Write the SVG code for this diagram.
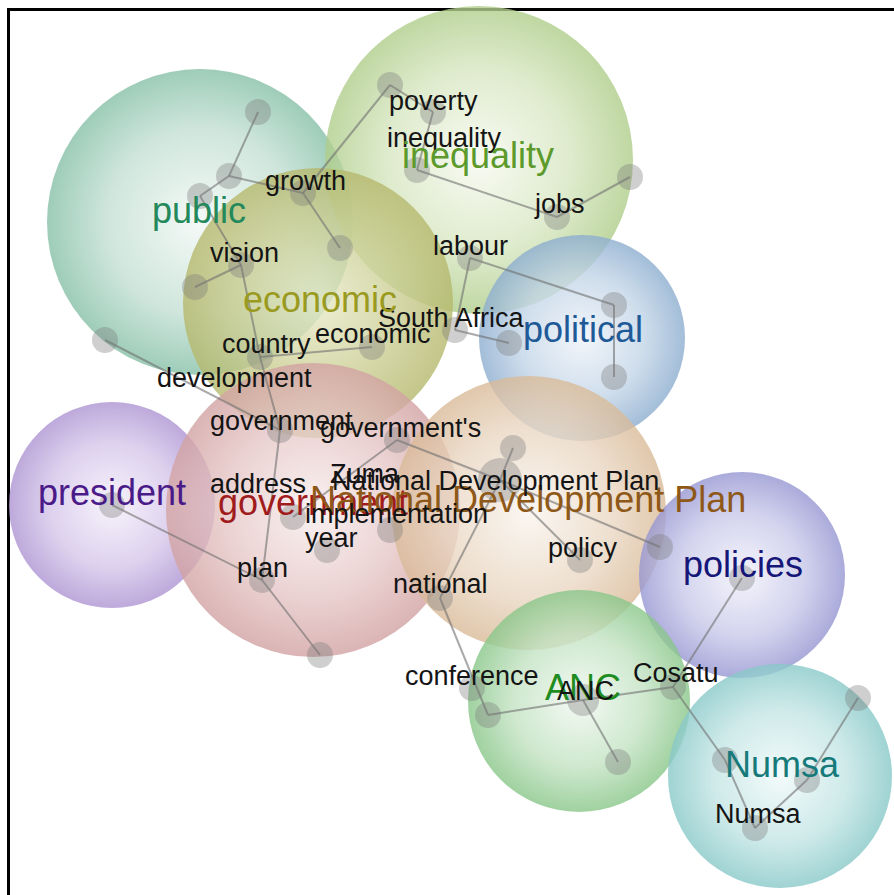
<svg xmlns="http://www.w3.org/2000/svg" width="894" height="895" viewBox="0 0 894 895">
<defs>
<radialGradient id="gPublic"><stop offset="0" stop-color="#f2f8f5"/><stop offset="0.6" stop-color="#c4e0d4"/><stop offset="1" stop-color="#86c0a8"/></radialGradient>
<radialGradient id="gIneq"><stop offset="0" stop-color="#f7f9f0"/><stop offset="0.6" stop-color="#d6e6c0"/><stop offset="1" stop-color="#afcd8a"/></radialGradient>
<radialGradient id="gEcon"><stop offset="0" stop-color="#e8eac8"/><stop offset="0.6" stop-color="#cacd92"/><stop offset="1" stop-color="#b5b86c"/></radialGradient>
<radialGradient id="gPol"><stop offset="0" stop-color="#eef3f9"/><stop offset="0.6" stop-color="#c3d5e7"/><stop offset="1" stop-color="#8cadcf"/></radialGradient>
<radialGradient id="gPres"><stop offset="0" stop-color="#f5f0fa"/><stop offset="0.6" stop-color="#d5c6ea"/><stop offset="1" stop-color="#ad94d2"/></radialGradient>
<radialGradient id="gGov"><stop offset="0" stop-color="#f8eeee"/><stop offset="0.6" stop-color="#e6c6c6"/><stop offset="1" stop-color="#d2a2a2"/></radialGradient>
<radialGradient id="gNdp"><stop offset="0" stop-color="#f9f4ee"/><stop offset="0.6" stop-color="#ead8c4"/><stop offset="1" stop-color="#d9ba98"/></radialGradient>
<radialGradient id="gPolc"><stop offset="0" stop-color="#f2f2fa"/><stop offset="0.6" stop-color="#c8c8ea"/><stop offset="1" stop-color="#9696d2"/></radialGradient>
<radialGradient id="gAnc"><stop offset="0" stop-color="#f1f8f1"/><stop offset="0.6" stop-color="#c2e2c2"/><stop offset="1" stop-color="#88c688"/></radialGradient>
<radialGradient id="gNumsa"><stop offset="0" stop-color="#f0f9f9"/><stop offset="0.6" stop-color="#c2e4e4"/><stop offset="1" stop-color="#88c8c8"/></radialGradient>
</defs>
<style>
.bub{opacity:0.8}
.edge{stroke:#707070;stroke-width:2;stroke-opacity:0.6;fill:none}
.dot{fill:#7a7a7a;fill-opacity:0.36}
.w{font-family:"Liberation Sans",Arial,sans-serif;font-size:27px;fill:#141414}
.c{font-family:"Liberation Sans",Arial,sans-serif;font-size:36px}
</style>
<rect x="0" y="0" width="894" height="895" fill="#ffffff"/>
<path d="M8.5 895 V9.5 H894" fill="none" stroke="#000" stroke-width="3"/>

<g id="bubbles">
<g id="cluster-public"><circle class="bub" cx="200" cy="222" r="153" fill="url(#gPublic)"/></g>
<g id="cluster-inequality"><circle class="bub" cx="479" cy="160" r="154" fill="url(#gIneq)"/></g>
<g id="cluster-economic"><circle class="bub" cx="318" cy="303" r="135" fill="url(#gEcon)"/></g>
<g id="cluster-political"><circle class="bub" cx="582" cy="338" r="103" fill="url(#gPol)"/></g>
<g id="cluster-president"><circle class="bub" cx="112" cy="505" r="103" fill="url(#gPres)"/></g>
<g id="cluster-government"><circle class="bub" cx="313" cy="510" r="147" fill="url(#gGov)"/></g>
<g id="cluster-ndp"><circle class="bub" cx="529" cy="513" r="137" fill="url(#gNdp)"/></g>
<g id="cluster-policies"><circle class="bub" cx="742" cy="575" r="103" fill="url(#gPolc)"/></g>
<g id="cluster-anc"><circle class="bub" cx="579" cy="701" r="111" fill="url(#gAnc)"/></g>
<g id="cluster-numsa"><circle class="bub" cx="780" cy="776" r="112" fill="url(#gNumsa)"/></g>
</g>

<g id="connectors">
<line class="edge" x1="258" y1="112" x2="229" y2="176"/>
<line class="edge" x1="229" y1="176" x2="200" y2="196"/>
<line class="edge" x1="229" y1="176" x2="303" y2="193"/>
<line class="edge" x1="200" y1="196" x2="241" y2="265"/>
<line class="edge" x1="241" y1="265" x2="195" y2="287"/>
<line class="edge" x1="241" y1="265" x2="260" y2="357"/>
<line class="edge" x1="303" y1="193" x2="340" y2="248"/>
<line class="edge" x1="303" y1="193" x2="390" y2="85"/>
<line class="edge" x1="390" y1="85" x2="433" y2="112"/>
<line class="edge" x1="433" y1="112" x2="417" y2="170"/>
<line class="edge" x1="417" y1="170" x2="557" y2="217"/>
<line class="edge" x1="557" y1="217" x2="630" y2="177"/>
<line class="edge" x1="470" y1="258" x2="614" y2="305"/>
<line class="edge" x1="470" y1="258" x2="455" y2="330"/>
<line class="edge" x1="455" y1="330" x2="509" y2="343"/>
<line class="edge" x1="614" y1="305" x2="614" y2="377"/>
<line class="edge" x1="260" y1="357" x2="372" y2="347"/>
<line class="edge" x1="105" y1="340" x2="280" y2="430"/>
<line class="edge" x1="260" y1="357" x2="280" y2="430"/>
<line class="edge" x1="280" y1="430" x2="262" y2="580"/>
<line class="edge" x1="112" y1="505" x2="262" y2="580"/>
<line class="edge" x1="262" y1="580" x2="320" y2="655"/>
<line class="edge" x1="397" y1="440" x2="293" y2="517"/>
<line class="edge" x1="397" y1="440" x2="500" y2="480"/>
<line class="edge" x1="513" y1="448" x2="500" y2="480"/>
<line class="edge" x1="500" y1="480" x2="580" y2="560"/>
<line class="edge" x1="500" y1="480" x2="660" y2="547"/>
<line class="edge" x1="500" y1="480" x2="440" y2="598"/>
<line class="edge" x1="440" y1="598" x2="488" y2="715"/>
<line class="edge" x1="488" y1="715" x2="583" y2="700"/>
<line class="edge" x1="583" y1="700" x2="618" y2="762"/>
<line class="edge" x1="583" y1="700" x2="673" y2="687"/>
<line class="edge" x1="742" y1="578" x2="673" y2="687"/>
<line class="edge" x1="673" y1="687" x2="725" y2="760"/>
<line class="edge" x1="725" y1="760" x2="755" y2="828"/>
<line class="edge" x1="755" y1="828" x2="807" y2="780"/>
<line class="edge" x1="807" y1="780" x2="858" y2="698"/>
</g>

<g id="dots">
<circle class="dot" cx="258" cy="112" r="13"/>
<circle class="dot" cx="229" cy="176" r="13"/>
<circle class="dot" cx="200" cy="196" r="13"/>
<circle class="dot" cx="195" cy="287" r="13"/>
<circle class="dot" cx="340" cy="248" r="13"/>
<circle class="dot" cx="105" cy="340" r="13"/>
<circle class="dot" cx="390" cy="85" r="13"/>
<circle class="dot" cx="630" cy="177" r="13"/>
<circle class="dot" cx="614" cy="305" r="13"/>
<circle class="dot" cx="614" cy="377" r="13"/>
<circle class="dot" cx="509" cy="343" r="13"/>
<circle class="dot" cx="293" cy="517" r="13"/>
<circle class="dot" cx="390" cy="530" r="13"/>
<circle class="dot" cx="320" cy="655" r="13"/>
<circle class="dot" cx="112" cy="505" r="13"/>
<circle class="dot" cx="513" cy="448" r="13"/>
<circle class="dot" cx="660" cy="547" r="13"/>
<circle class="dot" cx="488" cy="715" r="13"/>
<circle class="dot" cx="618" cy="762" r="13"/>
<circle class="dot" cx="742" cy="578" r="13"/>
<circle class="dot" cx="725" cy="760" r="13"/>
<circle class="dot" cx="807" cy="780" r="13"/>
<circle class="dot" cx="858" cy="698" r="13"/>
<circle class="dot" cx="583" cy="700" r="16"/>
<circle class="dot" cx="500" cy="480" r="22"/>
</g>

<g id="term-poverty"><circle class="dot" cx="433" cy="112" r="13"/><text class="w" x="389" y="110">poverty</text></g>
<g id="term-inequality"><circle class="dot" cx="417" cy="170" r="13"/><text class="w" x="387" y="147">inequality</text></g>
<g id="term-growth"><circle class="dot" cx="303" cy="193" r="13"/><text class="w" x="265" y="190">growth</text></g>
<g id="term-jobs"><circle class="dot" cx="557" cy="217" r="13"/><text class="w" x="535" y="213">jobs</text></g>
<g id="term-vision"><circle class="dot" cx="241" cy="265" r="13"/><text class="w" x="210" y="262">vision</text></g>
<g id="term-labour"><circle class="dot" cx="470" cy="258" r="13"/><text class="w" x="433" y="255">labour</text></g>
<g id="term-southafrica"><circle class="dot" cx="455" cy="330" r="13"/><text class="w" x="378" y="327">South Africa</text></g>
<g id="term-economic"><circle class="dot" cx="372" cy="347" r="13"/><text class="w" x="315" y="343">economic</text></g>
<g id="term-country"><circle class="dot" cx="260" cy="357" r="13"/><text class="w" x="222" y="353">country</text></g>
<g id="term-development"><text class="w" x="157" y="387">development</text></g>
<g id="term-government"><circle class="dot" cx="280" cy="430" r="13"/><text class="w" x="210" y="430">government</text></g>
<g id="term-governments"><circle class="dot" cx="397" cy="440" r="13"/><text class="w" x="320" y="437">government's</text></g>
<g id="term-address"><text class="w" x="210" y="493">address</text></g>

<g id="label-government"><text class="c" x="218" y="515" fill="#a01c1c">government</text></g>
<g id="label-ndp"><text class="c" x="310" y="512" fill="#8e5818">National Development Plan</text></g>

<g id="term-zuma"><text class="w" x="330" y="483">Zuma</text></g>
<g id="term-ndp"><text class="w" x="332" y="490">National Development Plan</text></g>
<g id="term-implementation"><text class="w" x="305" y="523">implementation</text></g>
<g id="term-year"><circle class="dot" cx="327" cy="550" r="13"/><text class="w" x="305" y="547">year</text></g>
<g id="term-plan"><circle class="dot" cx="262" cy="580" r="13"/><text class="w" x="237" y="577">plan</text></g>
<g id="term-policy"><circle class="dot" cx="580" cy="560" r="13"/><text class="w" x="548" y="557">policy</text></g>
<g id="term-national"><circle class="dot" cx="440" cy="598" r="13"/><text class="w" x="393" y="593">national</text></g>
<g id="term-conference"><circle class="dot" cx="472" cy="688" r="13"/><text class="w" x="405" y="685">conference</text></g>
<g id="term-cosatu"><circle class="dot" cx="673" cy="687" r="13"/><text class="w" x="633" y="682">Cosatu</text></g>
<g id="term-numsa"><circle class="dot" cx="755" cy="828" r="13"/><text class="w" x="715" y="823">Numsa</text></g>

<g id="labels">
<text class="c" x="152" y="223" fill="#23885a">public</text>
<text class="c" x="402" y="168" fill="#5c9a2c">inequality</text>
<text class="c" x="243" y="312" fill="#9a9a20">economic</text>
<text class="c" x="523" y="342" fill="#1f5a98">political</text>
<text class="c" x="38" y="505" fill="#4a1a88">president</text>
<text class="c" x="683" y="577" fill="#161678">policies</text>
<text class="c" x="545" y="700" fill="#1e8c1e">ANC</text>
<text class="c" x="725" y="777" fill="#167a7a">Numsa</text>
</g>
<g id="term-anc"><text class="w" x="557" y="700">ANC</text></g>
</svg>
